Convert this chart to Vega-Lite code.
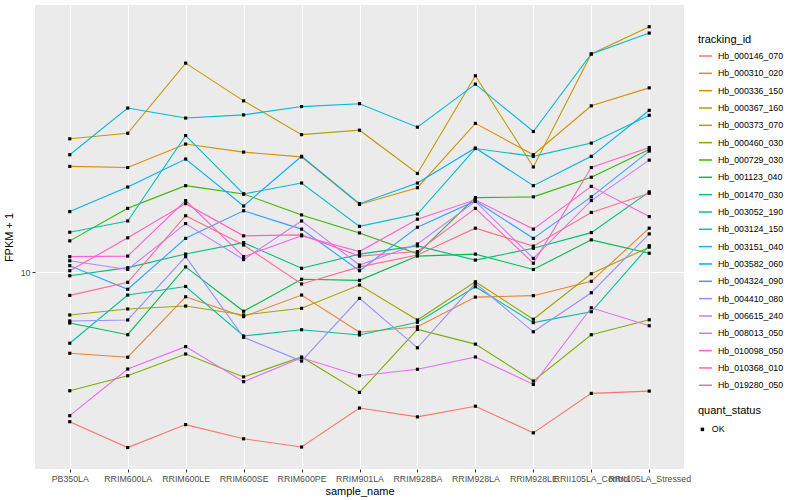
{
  "$schema": "https://vega.github.io/schema/vega-lite/v6.json",
  "width": 649,
  "height": 464,
  "autosize": {"type": "none"},
  "padding": {"left": 35, "top": 5, "right": 116, "bottom": 31},
  "background": "white",
  "config": {
    "font": "Liberation Sans",
    "view": {"fill": "#EBEBEB", "stroke": null},
    "axis": {
      "domain": false,
      "grid": true,
      "gridColor": "white",
      "gridWidth": 1.1,
      "tickColor": "#333333",
      "tickSize": 3,
      "tickWidth": 1,
      "labelColor": "#4D4D4D",
      "labelFontSize": 8.8,
      "labelPadding": 2,
      "titleFontSize": 11,
      "titleFontWeight": "normal",
      "titleColor": "black"
    },
    "legend": {
      "titleFontSize": 11,
      "titleFontWeight": "normal",
      "titleColor": "black",
      "labelFontSize": 8.8,
      "labelColor": "black",
      "padding": 0
    }
  },
  "data": {"values": [
    {"tracking_id":"Hb_000146_070","sample_name":"PB350LA","fpkm":3.17,"quant_status":"OK"},
    {"tracking_id":"Hb_000146_070","sample_name":"RRIM600LA","fpkm":2.60,"quant_status":"OK"},
    {"tracking_id":"Hb_000146_070","sample_name":"RRIM600LE","fpkm":3.10,"quant_status":"OK"},
    {"tracking_id":"Hb_000146_070","sample_name":"RRIM600SE","fpkm":2.78,"quant_status":"OK"},
    {"tracking_id":"Hb_000146_070","sample_name":"RRIM600PE","fpkm":2.61,"quant_status":"OK"},
    {"tracking_id":"Hb_000146_070","sample_name":"RRIM901LA","fpkm":3.52,"quant_status":"OK"},
    {"tracking_id":"Hb_000146_070","sample_name":"RRIM928BA","fpkm":3.29,"quant_status":"OK"},
    {"tracking_id":"Hb_000146_070","sample_name":"RRIM928LA","fpkm":3.57,"quant_status":"OK"},
    {"tracking_id":"Hb_000146_070","sample_name":"RRIM928LE","fpkm":2.91,"quant_status":"OK"},
    {"tracking_id":"Hb_000146_070","sample_name":"RRII105LA_Control","fpkm":3.94,"quant_status":"OK"},
    {"tracking_id":"Hb_000146_070","sample_name":"RRII105LA_Stressed","fpkm":4.01,"quant_status":"OK"},

    {"tracking_id":"Hb_000310_020","sample_name":"PB350LA","fpkm":5.36,"quant_status":"OK"},
    {"tracking_id":"Hb_000310_020","sample_name":"RRIM600LA","fpkm":5.20,"quant_status":"OK"},
    {"tracking_id":"Hb_000310_020","sample_name":"RRIM600LE","fpkm":8.27,"quant_status":"OK"},
    {"tracking_id":"Hb_000310_020","sample_name":"RRIM600SE","fpkm":7.10,"quant_status":"OK"},
    {"tracking_id":"Hb_000310_020","sample_name":"RRIM600PE","fpkm":8.38,"quant_status":"OK"},
    {"tracking_id":"Hb_000310_020","sample_name":"RRIM901LA","fpkm":6.30,"quant_status":"OK"},
    {"tracking_id":"Hb_000310_020","sample_name":"RRIM928BA","fpkm":6.57,"quant_status":"OK"},
    {"tracking_id":"Hb_000310_020","sample_name":"RRIM928LA","fpkm":8.25,"quant_status":"OK"},
    {"tracking_id":"Hb_000310_020","sample_name":"RRIM928LE","fpkm":8.34,"quant_status":"OK"},
    {"tracking_id":"Hb_000310_020","sample_name":"RRII105LA_Control","fpkm":9.31,"quant_status":"OK"},
    {"tracking_id":"Hb_000310_020","sample_name":"RRII105LA_Stressed","fpkm":14.0,"quant_status":"OK"},

    {"tracking_id":"Hb_000336_150","sample_name":"PB350LA","fpkm":22.5,"quant_status":"OK"},
    {"tracking_id":"Hb_000336_150","sample_name":"RRIM600LA","fpkm":22.3,"quant_status":"OK"},
    {"tracking_id":"Hb_000336_150","sample_name":"RRIM600LE","fpkm":26.7,"quant_status":"OK"},
    {"tracking_id":"Hb_000336_150","sample_name":"RRIM600SE","fpkm":25.1,"quant_status":"OK"},
    {"tracking_id":"Hb_000336_150","sample_name":"RRIM600PE","fpkm":24.2,"quant_status":"OK"},
    {"tracking_id":"Hb_000336_150","sample_name":"RRIM901LA","fpkm":16.8,"quant_status":"OK"},
    {"tracking_id":"Hb_000336_150","sample_name":"RRIM928BA","fpkm":19.1,"quant_status":"OK"},
    {"tracking_id":"Hb_000336_150","sample_name":"RRIM928LA","fpkm":31.3,"quant_status":"OK"},
    {"tracking_id":"Hb_000336_150","sample_name":"RRIM928LE","fpkm":24.6,"quant_status":"OK"},
    {"tracking_id":"Hb_000336_150","sample_name":"RRII105LA_Control","fpkm":35.8,"quant_status":"OK"},
    {"tracking_id":"Hb_000336_150","sample_name":"RRII105LA_Stressed","fpkm":41.1,"quant_status":"OK"},

    {"tracking_id":"Hb_000367_160","sample_name":"PB350LA","fpkm":27.8,"quant_status":"OK"},
    {"tracking_id":"Hb_000367_160","sample_name":"RRIM600LA","fpkm":29.0,"quant_status":"OK"},
    {"tracking_id":"Hb_000367_160","sample_name":"RRIM600LE","fpkm":49.7,"quant_status":"OK"},
    {"tracking_id":"Hb_000367_160","sample_name":"RRIM600SE","fpkm":37.2,"quant_status":"OK"},
    {"tracking_id":"Hb_000367_160","sample_name":"RRIM600PE","fpkm":28.7,"quant_status":"OK"},
    {"tracking_id":"Hb_000367_160","sample_name":"RRIM901LA","fpkm":29.7,"quant_status":"OK"},
    {"tracking_id":"Hb_000367_160","sample_name":"RRIM928BA","fpkm":21.3,"quant_status":"OK"},
    {"tracking_id":"Hb_000367_160","sample_name":"RRIM928LA","fpkm":45.1,"quant_status":"OK"},
    {"tracking_id":"Hb_000367_160","sample_name":"RRIM928LE","fpkm":22.4,"quant_status":"OK"},
    {"tracking_id":"Hb_000367_160","sample_name":"RRII105LA_Control","fpkm":53.3,"quant_status":"OK"},
    {"tracking_id":"Hb_000367_160","sample_name":"RRII105LA_Stressed","fpkm":65.7,"quant_status":"OK"},

    {"tracking_id":"Hb_000373_070","sample_name":"PB350LA","fpkm":7.19,"quant_status":"OK"},
    {"tracking_id":"Hb_000373_070","sample_name":"RRIM600LA","fpkm":7.53,"quant_status":"OK"},
    {"tracking_id":"Hb_000373_070","sample_name":"RRIM600LE","fpkm":7.70,"quant_status":"OK"},
    {"tracking_id":"Hb_000373_070","sample_name":"RRIM600SE","fpkm":7.19,"quant_status":"OK"},
    {"tracking_id":"Hb_000373_070","sample_name":"RRIM600PE","fpkm":7.57,"quant_status":"OK"},
    {"tracking_id":"Hb_000373_070","sample_name":"RRIM901LA","fpkm":9.05,"quant_status":"OK"},
    {"tracking_id":"Hb_000373_070","sample_name":"RRIM928BA","fpkm":6.92,"quant_status":"OK"},
    {"tracking_id":"Hb_000373_070","sample_name":"RRIM928LA","fpkm":9.28,"quant_status":"OK"},
    {"tracking_id":"Hb_000373_070","sample_name":"RRIM928LE","fpkm":6.96,"quant_status":"OK"},
    {"tracking_id":"Hb_000373_070","sample_name":"RRII105LA_Control","fpkm":9.87,"quant_status":"OK"},
    {"tracking_id":"Hb_000373_070","sample_name":"RRII105LA_Stressed","fpkm":12.1,"quant_status":"OK"},

    {"tracking_id":"Hb_000460_030","sample_name":"PB350LA","fpkm":4.02,"quant_status":"OK"},
    {"tracking_id":"Hb_000460_030","sample_name":"RRIM600LA","fpkm":4.51,"quant_status":"OK"},
    {"tracking_id":"Hb_000460_030","sample_name":"RRIM600LE","fpkm":5.33,"quant_status":"OK"},
    {"tracking_id":"Hb_000460_030","sample_name":"RRIM600SE","fpkm":4.47,"quant_status":"OK"},
    {"tracking_id":"Hb_000460_030","sample_name":"RRIM600PE","fpkm":5.21,"quant_status":"OK"},
    {"tracking_id":"Hb_000460_030","sample_name":"RRIM901LA","fpkm":3.97,"quant_status":"OK"},
    {"tracking_id":"Hb_000460_030","sample_name":"RRIM928BA","fpkm":6.44,"quant_status":"OK"},
    {"tracking_id":"Hb_000460_030","sample_name":"RRIM928LA","fpkm":5.75,"quant_status":"OK"},
    {"tracking_id":"Hb_000460_030","sample_name":"RRIM928LE","fpkm":4.33,"quant_status":"OK"},
    {"tracking_id":"Hb_000460_030","sample_name":"RRII105LA_Control","fpkm":6.18,"quant_status":"OK"},
    {"tracking_id":"Hb_000460_030","sample_name":"RRII105LA_Stressed","fpkm":6.93,"quant_status":"OK"},

    {"tracking_id":"Hb_000729_030","sample_name":"PB350LA","fpkm":12.7,"quant_status":"OK"},
    {"tracking_id":"Hb_000729_030","sample_name":"RRIM600LA","fpkm":16.3,"quant_status":"OK"},
    {"tracking_id":"Hb_000729_030","sample_name":"RRIM600LE","fpkm":19.4,"quant_status":"OK"},
    {"tracking_id":"Hb_000729_030","sample_name":"RRIM600SE","fpkm":18.2,"quant_status":"OK"},
    {"tracking_id":"Hb_000729_030","sample_name":"RRIM600PE","fpkm":15.5,"quant_status":"OK"},
    {"tracking_id":"Hb_000729_030","sample_name":"RRIM901LA","fpkm":13.5,"quant_status":"OK"},
    {"tracking_id":"Hb_000729_030","sample_name":"RRIM928BA","fpkm":11.5,"quant_status":"OK"},
    {"tracking_id":"Hb_000729_030","sample_name":"RRIM928LA","fpkm":17.7,"quant_status":"OK"},
    {"tracking_id":"Hb_000729_030","sample_name":"RRIM928LE","fpkm":17.8,"quant_status":"OK"},
    {"tracking_id":"Hb_000729_030","sample_name":"RRII105LA_Control","fpkm":20.7,"quant_status":"OK"},
    {"tracking_id":"Hb_000729_030","sample_name":"RRII105LA_Stressed","fpkm":25.6,"quant_status":"OK"},

    {"tracking_id":"Hb_001123_040","sample_name":"PB350LA","fpkm":6.76,"quant_status":"OK"},
    {"tracking_id":"Hb_001123_040","sample_name":"RRIM600LA","fpkm":6.18,"quant_status":"OK"},
    {"tracking_id":"Hb_001123_040","sample_name":"RRIM600LE","fpkm":10.4,"quant_status":"OK"},
    {"tracking_id":"Hb_001123_040","sample_name":"RRIM600SE","fpkm":7.40,"quant_status":"OK"},
    {"tracking_id":"Hb_001123_040","sample_name":"RRIM600PE","fpkm":9.46,"quant_status":"OK"},
    {"tracking_id":"Hb_001123_040","sample_name":"RRIM901LA","fpkm":9.38,"quant_status":"OK"},
    {"tracking_id":"Hb_001123_040","sample_name":"RRIM928BA","fpkm":11.3,"quant_status":"OK"},
    {"tracking_id":"Hb_001123_040","sample_name":"RRIM928LA","fpkm":11.47,"quant_status":"OK"},
    {"tracking_id":"Hb_001123_040","sample_name":"RRIM928LE","fpkm":10.2,"quant_status":"OK"},
    {"tracking_id":"Hb_001123_040","sample_name":"RRII105LA_Control","fpkm":12.8,"quant_status":"OK"},
    {"tracking_id":"Hb_001123_040","sample_name":"RRII105LA_Stressed","fpkm":11.55,"quant_status":"OK"},

    {"tracking_id":"Hb_001470_030","sample_name":"PB350LA","fpkm":9.72,"quant_status":"OK"},
    {"tracking_id":"Hb_001470_030","sample_name":"RRIM600LA","fpkm":10.34,"quant_status":"OK"},
    {"tracking_id":"Hb_001470_030","sample_name":"RRIM600LE","fpkm":11.48,"quant_status":"OK"},
    {"tracking_id":"Hb_001470_030","sample_name":"RRIM600SE","fpkm":12.53,"quant_status":"OK"},
    {"tracking_id":"Hb_001470_030","sample_name":"RRIM600PE","fpkm":10.29,"quant_status":"OK"},
    {"tracking_id":"Hb_001470_030","sample_name":"RRIM901LA","fpkm":11.47,"quant_status":"OK"},
    {"tracking_id":"Hb_001470_030","sample_name":"RRIM928BA","fpkm":12.22,"quant_status":"OK"},
    {"tracking_id":"Hb_001470_030","sample_name":"RRIM928LA","fpkm":10.96,"quant_status":"OK"},
    {"tracking_id":"Hb_001470_030","sample_name":"RRIM928LE","fpkm":12.0,"quant_status":"OK"},
    {"tracking_id":"Hb_001470_030","sample_name":"RRII105LA_Control","fpkm":13.53,"quant_status":"OK"},
    {"tracking_id":"Hb_001470_030","sample_name":"RRII105LA_Stressed","fpkm":18.5,"quant_status":"OK"},

    {"tracking_id":"Hb_003052_190","sample_name":"PB350LA","fpkm":5.79,"quant_status":"OK"},
    {"tracking_id":"Hb_003052_190","sample_name":"RRIM600LA","fpkm":8.38,"quant_status":"OK"},
    {"tracking_id":"Hb_003052_190","sample_name":"RRIM600LE","fpkm":8.95,"quant_status":"OK"},
    {"tracking_id":"Hb_003052_190","sample_name":"RRIM600SE","fpkm":6.12,"quant_status":"OK"},
    {"tracking_id":"Hb_003052_190","sample_name":"RRIM600PE","fpkm":6.42,"quant_status":"OK"},
    {"tracking_id":"Hb_003052_190","sample_name":"RRIM901LA","fpkm":6.17,"quant_status":"OK"},
    {"tracking_id":"Hb_003052_190","sample_name":"RRIM928BA","fpkm":6.80,"quant_status":"OK"},
    {"tracking_id":"Hb_003052_190","sample_name":"RRIM928LA","fpkm":8.93,"quant_status":"OK"},
    {"tracking_id":"Hb_003052_190","sample_name":"RRIM928LE","fpkm":6.78,"quant_status":"OK"},
    {"tracking_id":"Hb_003052_190","sample_name":"RRII105LA_Control","fpkm":7.37,"quant_status":"OK"},
    {"tracking_id":"Hb_003052_190","sample_name":"RRII105LA_Stressed","fpkm":12.24,"quant_status":"OK"},

    {"tracking_id":"Hb_003124_150","sample_name":"PB350LA","fpkm":13.57,"quant_status":"OK"},
    {"tracking_id":"Hb_003124_150","sample_name":"RRIM600LA","fpkm":14.8,"quant_status":"OK"},
    {"tracking_id":"Hb_003124_150","sample_name":"RRIM600LE","fpkm":28.5,"quant_status":"OK"},
    {"tracking_id":"Hb_003124_150","sample_name":"RRIM600SE","fpkm":18.2,"quant_status":"OK"},
    {"tracking_id":"Hb_003124_150","sample_name":"RRIM600PE","fpkm":19.8,"quant_status":"OK"},
    {"tracking_id":"Hb_003124_150","sample_name":"RRIM901LA","fpkm":14.2,"quant_status":"OK"},
    {"tracking_id":"Hb_003124_150","sample_name":"RRIM928BA","fpkm":15.6,"quant_status":"OK"},
    {"tracking_id":"Hb_003124_150","sample_name":"RRIM928LA","fpkm":25.8,"quant_status":"OK"},
    {"tracking_id":"Hb_003124_150","sample_name":"RRIM928LE","fpkm":24.3,"quant_status":"OK"},
    {"tracking_id":"Hb_003124_150","sample_name":"RRII105LA_Control","fpkm":26.9,"quant_status":"OK"},
    {"tracking_id":"Hb_003124_150","sample_name":"RRII105LA_Stressed","fpkm":33.3,"quant_status":"OK"},

    {"tracking_id":"Hb_003151_040","sample_name":"PB350LA","fpkm":24.6,"quant_status":"OK"},
    {"tracking_id":"Hb_003151_040","sample_name":"RRIM600LA","fpkm":35.2,"quant_status":"OK"},
    {"tracking_id":"Hb_003151_040","sample_name":"RRIM600LE","fpkm":32.6,"quant_status":"OK"},
    {"tracking_id":"Hb_003151_040","sample_name":"RRIM600SE","fpkm":33.4,"quant_status":"OK"},
    {"tracking_id":"Hb_003151_040","sample_name":"RRIM600PE","fpkm":35.6,"quant_status":"OK"},
    {"tracking_id":"Hb_003151_040","sample_name":"RRIM901LA","fpkm":36.4,"quant_status":"OK"},
    {"tracking_id":"Hb_003151_040","sample_name":"RRIM928BA","fpkm":30.4,"quant_status":"OK"},
    {"tracking_id":"Hb_003151_040","sample_name":"RRIM928LA","fpkm":42.3,"quant_status":"OK"},
    {"tracking_id":"Hb_003151_040","sample_name":"RRIM928LE","fpkm":29.4,"quant_status":"OK"},
    {"tracking_id":"Hb_003151_040","sample_name":"RRII105LA_Control","fpkm":53.3,"quant_status":"OK"},
    {"tracking_id":"Hb_003151_040","sample_name":"RRII105LA_Stressed","fpkm":62.6,"quant_status":"OK"},

    {"tracking_id":"Hb_003582_060","sample_name":"PB350LA","fpkm":15.9,"quant_status":"OK"},
    {"tracking_id":"Hb_003582_060","sample_name":"RRIM600LA","fpkm":19.2,"quant_status":"OK"},
    {"tracking_id":"Hb_003582_060","sample_name":"RRIM600LE","fpkm":23.8,"quant_status":"OK"},
    {"tracking_id":"Hb_003582_060","sample_name":"RRIM600SE","fpkm":16.6,"quant_status":"OK"},
    {"tracking_id":"Hb_003582_060","sample_name":"RRIM600PE","fpkm":24.3,"quant_status":"OK"},
    {"tracking_id":"Hb_003582_060","sample_name":"RRIM901LA","fpkm":16.9,"quant_status":"OK"},
    {"tracking_id":"Hb_003582_060","sample_name":"RRIM928BA","fpkm":19.8,"quant_status":"OK"},
    {"tracking_id":"Hb_003582_060","sample_name":"RRIM928LA","fpkm":25.9,"quant_status":"OK"},
    {"tracking_id":"Hb_003582_060","sample_name":"RRIM928LE","fpkm":19.4,"quant_status":"OK"},
    {"tracking_id":"Hb_003582_060","sample_name":"RRII105LA_Control","fpkm":24.3,"quant_status":"OK"},
    {"tracking_id":"Hb_003582_060","sample_name":"RRII105LA_Stressed","fpkm":34.6,"quant_status":"OK"},

    {"tracking_id":"Hb_004324_090","sample_name":"PB350LA","fpkm":10.5,"quant_status":"OK"},
    {"tracking_id":"Hb_004324_090","sample_name":"RRIM600LA","fpkm":8.76,"quant_status":"OK"},
    {"tracking_id":"Hb_004324_090","sample_name":"RRIM600LE","fpkm":12.95,"quant_status":"OK"},
    {"tracking_id":"Hb_004324_090","sample_name":"RRIM600SE","fpkm":16.0,"quant_status":"OK"},
    {"tracking_id":"Hb_004324_090","sample_name":"RRIM600PE","fpkm":13.9,"quant_status":"OK"},
    {"tracking_id":"Hb_004324_090","sample_name":"RRIM901LA","fpkm":10.1,"quant_status":"OK"},
    {"tracking_id":"Hb_004324_090","sample_name":"RRIM928BA","fpkm":14.1,"quant_status":"OK"},
    {"tracking_id":"Hb_004324_090","sample_name":"RRIM928LA","fpkm":17.25,"quant_status":"OK"},
    {"tracking_id":"Hb_004324_090","sample_name":"RRIM928LE","fpkm":12.95,"quant_status":"OK"},
    {"tracking_id":"Hb_004324_090","sample_name":"RRII105LA_Control","fpkm":17.8,"quant_status":"OK"},
    {"tracking_id":"Hb_004324_090","sample_name":"RRII105LA_Stressed","fpkm":25.3,"quant_status":"OK"},

    {"tracking_id":"Hb_004410_080","sample_name":"PB350LA","fpkm":6.87,"quant_status":"OK"},
    {"tracking_id":"Hb_004410_080","sample_name":"RRIM600LA","fpkm":6.92,"quant_status":"OK"},
    {"tracking_id":"Hb_004410_080","sample_name":"RRIM600LE","fpkm":11.25,"quant_status":"OK"},
    {"tracking_id":"Hb_004410_080","sample_name":"RRIM600SE","fpkm":6.06,"quant_status":"OK"},
    {"tracking_id":"Hb_004410_080","sample_name":"RRIM600PE","fpkm":5.05,"quant_status":"OK"},
    {"tracking_id":"Hb_004410_080","sample_name":"RRIM901LA","fpkm":8.17,"quant_status":"OK"},
    {"tracking_id":"Hb_004410_080","sample_name":"RRIM928BA","fpkm":5.59,"quant_status":"OK"},
    {"tracking_id":"Hb_004410_080","sample_name":"RRIM928LA","fpkm":9.17,"quant_status":"OK"},
    {"tracking_id":"Hb_004410_080","sample_name":"RRIM928LE","fpkm":6.32,"quant_status":"OK"},
    {"tracking_id":"Hb_004410_080","sample_name":"RRII105LA_Control","fpkm":8.53,"quant_status":"OK"},
    {"tracking_id":"Hb_004410_080","sample_name":"RRII105LA_Stressed","fpkm":13.4,"quant_status":"OK"},

    {"tracking_id":"Hb_006615_240","sample_name":"PB350LA","fpkm":10.9,"quant_status":"OK"},
    {"tracking_id":"Hb_006615_240","sample_name":"RRIM600LA","fpkm":10.2,"quant_status":"OK"},
    {"tracking_id":"Hb_006615_240","sample_name":"RRIM600LE","fpkm":14.5,"quant_status":"OK"},
    {"tracking_id":"Hb_006615_240","sample_name":"RRIM600SE","fpkm":11.0,"quant_status":"OK"},
    {"tracking_id":"Hb_006615_240","sample_name":"RRIM600PE","fpkm":14.8,"quant_status":"OK"},
    {"tracking_id":"Hb_006615_240","sample_name":"RRIM901LA","fpkm":10.55,"quant_status":"OK"},
    {"tracking_id":"Hb_006615_240","sample_name":"RRIM928BA","fpkm":12.4,"quant_status":"OK"},
    {"tracking_id":"Hb_006615_240","sample_name":"RRIM928LA","fpkm":17.2,"quant_status":"OK"},
    {"tracking_id":"Hb_006615_240","sample_name":"RRIM928LE","fpkm":11.1,"quant_status":"OK"},
    {"tracking_id":"Hb_006615_240","sample_name":"RRII105LA_Control","fpkm":17.3,"quant_status":"OK"},
    {"tracking_id":"Hb_006615_240","sample_name":"RRII105LA_Stressed","fpkm":23.6,"quant_status":"OK"},

    {"tracking_id":"Hb_008013_050","sample_name":"PB350LA","fpkm":3.32,"quant_status":"OK"},
    {"tracking_id":"Hb_008013_050","sample_name":"RRIM600LA","fpkm":4.75,"quant_status":"OK"},
    {"tracking_id":"Hb_008013_050","sample_name":"RRIM600LE","fpkm":5.64,"quant_status":"OK"},
    {"tracking_id":"Hb_008013_050","sample_name":"RRIM600SE","fpkm":4.31,"quant_status":"OK"},
    {"tracking_id":"Hb_008013_050","sample_name":"RRIM600PE","fpkm":5.18,"quant_status":"OK"},
    {"tracking_id":"Hb_008013_050","sample_name":"RRIM901LA","fpkm":4.51,"quant_status":"OK"},
    {"tracking_id":"Hb_008013_050","sample_name":"RRIM928BA","fpkm":4.74,"quant_status":"OK"},
    {"tracking_id":"Hb_008013_050","sample_name":"RRIM928LA","fpkm":5.21,"quant_status":"OK"},
    {"tracking_id":"Hb_008013_050","sample_name":"RRIM928LE","fpkm":4.22,"quant_status":"OK"},
    {"tracking_id":"Hb_008013_050","sample_name":"RRII105LA_Control","fpkm":7.60,"quant_status":"OK"},
    {"tracking_id":"Hb_008013_050","sample_name":"RRII105LA_Stressed","fpkm":6.62,"quant_status":"OK"},

    {"tracking_id":"Hb_010098_050","sample_name":"PB350LA","fpkm":11.25,"quant_status":"OK"},
    {"tracking_id":"Hb_010098_050","sample_name":"RRIM600LA","fpkm":11.3,"quant_status":"OK"},
    {"tracking_id":"Hb_010098_050","sample_name":"RRIM600LE","fpkm":17.3,"quant_status":"OK"},
    {"tracking_id":"Hb_010098_050","sample_name":"RRIM600SE","fpkm":11.25,"quant_status":"OK"},
    {"tracking_id":"Hb_010098_050","sample_name":"RRIM600PE","fpkm":13.2,"quant_status":"OK"},
    {"tracking_id":"Hb_010098_050","sample_name":"RRIM901LA","fpkm":11.7,"quant_status":"OK"},
    {"tracking_id":"Hb_010098_050","sample_name":"RRIM928BA","fpkm":15.0,"quant_status":"OK"},
    {"tracking_id":"Hb_010098_050","sample_name":"RRIM928LA","fpkm":17.4,"quant_status":"OK"},
    {"tracking_id":"Hb_010098_050","sample_name":"RRIM928LE","fpkm":13.9,"quant_status":"OK"},
    {"tracking_id":"Hb_010098_050","sample_name":"RRII105LA_Control","fpkm":19.3,"quant_status":"OK"},
    {"tracking_id":"Hb_010098_050","sample_name":"RRII105LA_Stressed","fpkm":15.3,"quant_status":"OK"},

    {"tracking_id":"Hb_010368_010","sample_name":"PB350LA","fpkm":10.1,"quant_status":"OK"},
    {"tracking_id":"Hb_010368_010","sample_name":"RRIM600LA","fpkm":13.0,"quant_status":"OK"},
    {"tracking_id":"Hb_010368_010","sample_name":"RRIM600LE","fpkm":16.9,"quant_status":"OK"},
    {"tracking_id":"Hb_010368_010","sample_name":"RRIM600SE","fpkm":13.2,"quant_status":"OK"},
    {"tracking_id":"Hb_010368_010","sample_name":"RRIM600PE","fpkm":13.3,"quant_status":"OK"},
    {"tracking_id":"Hb_010368_010","sample_name":"RRIM901LA","fpkm":11.3,"quant_status":"OK"},
    {"tracking_id":"Hb_010368_010","sample_name":"RRIM928BA","fpkm":11.7,"quant_status":"OK"},
    {"tracking_id":"Hb_010368_010","sample_name":"RRIM928LA","fpkm":16.3,"quant_status":"OK"},
    {"tracking_id":"Hb_010368_010","sample_name":"RRIM928LE","fpkm":10.7,"quant_status":"OK"},
    {"tracking_id":"Hb_010368_010","sample_name":"RRII105LA_Control","fpkm":22.3,"quant_status":"OK"},
    {"tracking_id":"Hb_010368_010","sample_name":"RRII105LA_Stressed","fpkm":26.0,"quant_status":"OK"},

    {"tracking_id":"Hb_019280_050","sample_name":"PB350LA","fpkm":8.36,"quant_status":"OK"},
    {"tracking_id":"Hb_019280_050","sample_name":"RRIM600LA","fpkm":9.24,"quant_status":"OK"},
    {"tracking_id":"Hb_019280_050","sample_name":"RRIM600LE","fpkm":15.4,"quant_status":"OK"},
    {"tracking_id":"Hb_019280_050","sample_name":"RRIM600SE","fpkm":12.3,"quant_status":"OK"},
    {"tracking_id":"Hb_019280_050","sample_name":"RRIM600PE","fpkm":9.12,"quant_status":"OK"},
    {"tracking_id":"Hb_019280_050","sample_name":"RRIM901LA","fpkm":10.4,"quant_status":"OK"},
    {"tracking_id":"Hb_019280_050","sample_name":"RRIM928BA","fpkm":11.4,"quant_status":"OK"},
    {"tracking_id":"Hb_019280_050","sample_name":"RRIM928LA","fpkm":14.0,"quant_status":"OK"},
    {"tracking_id":"Hb_019280_050","sample_name":"RRIM928LE","fpkm":12.2,"quant_status":"OK"},
    {"tracking_id":"Hb_019280_050","sample_name":"RRII105LA_Control","fpkm":15.8,"quant_status":"OK"},
    {"tracking_id":"Hb_019280_050","sample_name":"RRII105LA_Stressed","fpkm":18.3,"quant_status":"OK"}
  ]},
  "encoding": {
    "x": {
      "field": "sample_name",
      "type": "nominal",
      "title": "sample_name",
      "scale": {"type": "point", "padding": 0.6, "domain": ["PB350LA","RRIM600LA","RRIM600LE","RRIM600SE","RRIM600PE","RRIM901LA","RRIM928BA","RRIM928LA","RRIM928LE","RRII105LA_Control","RRII105LA_Stressed"]},
      "axis": {"labelAngle": 0, "labelOverlap": false, "labelLimit": 0, "labelBound": false, "titlePadding": 3}
    },
    "y": {
      "field": "fpkm",
      "type": "quantitative",
      "title": "FPKM + 1",
      "scale": {"type": "log", "domain": [2.205, 77.63], "nice": false, "zero": false},
      "axis": {"values": [10], "format": "d", "titlePadding": 6}
    }
  },
  "layer": [
    {
      "mark": {"type": "line", "strokeWidth": 1.1},
      "encoding": {
        "color": {
          "field": "tracking_id",
          "type": "nominal",
          "title": "tracking_id",
          "scale": {
            "domain": ["Hb_000146_070","Hb_000310_020","Hb_000336_150","Hb_000367_160","Hb_000373_070","Hb_000460_030","Hb_000729_030","Hb_001123_040","Hb_001470_030","Hb_003052_190","Hb_003124_150","Hb_003151_040","Hb_003582_060","Hb_004324_090","Hb_004410_080","Hb_006615_240","Hb_008013_050","Hb_010098_050","Hb_010368_010","Hb_019280_050"],
            "range": ["#F8766D","#EA8331","#D89000","#C09B00","#A3A500","#7CAE00","#39B600","#00BB4E","#00BF7D","#00C1A3","#00BFC4","#00BAE0","#00B0F6","#35A2FF","#9590FF","#C77CFF","#E76BF3","#FA62DB","#FF62BC","#FF6C91"]
          },
          "legend": {
            "orient": "none",
            "legendX": 663,
            "legendY": 28.5,
            "symbolType": "stroke",
            "symbolSize": 169,
            "symbolStrokeWidth": 1.5,
            "rowPadding": 4.33,
            "titlePadding": 4,
            "labelOffset": 5
          }
        }
      }
    },
    {
      "mark": {"type": "point", "shape": "square", "filled": true, "size": 10, "color": "black", "opacity": 1},
      "encoding": {
        "shape": {
          "field": "quant_status",
          "type": "nominal",
          "title": "quant_status",
          "scale": {"range": ["square"]},
          "legend": {
            "orient": "none",
            "legendX": 663,
            "legendY": 400,
            "symbolFillColor": "black",
            "symbolStrokeColor": "black",
            "symbolSize": 12,
            "titlePadding": 9,
            "labelOffset": 5
          }
        }
      }
    }
  ]
}
